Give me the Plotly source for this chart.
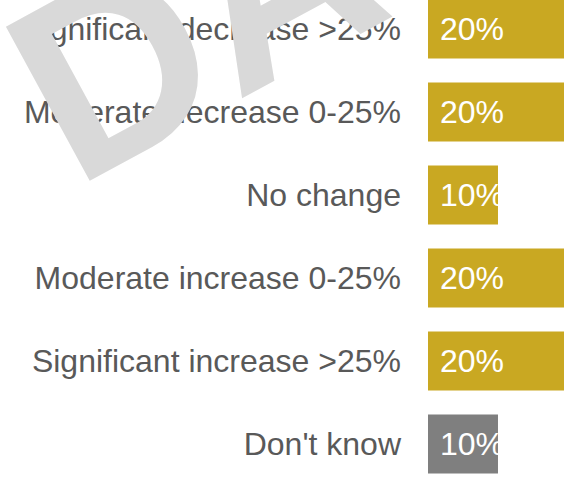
import plotly.graph_objects as go

# Survey responses: expected change
categories = [
    "Significant decrease >25%",
    "Moderate decrease 0-25%",
    "No change",
    "Moderate increase 0-25%",
    "Significant increase >25%",
    "Don't know",
]
shares = [20, 20, 10, 20, 20, 10]
bar_colors = ["#C9A822", "#C9A822", "#C9A822", "#C9A822", "#C9A822", "#7F7F7F"]

FONT = "Liberation Sans, Arial, sans-serif"

fig = go.Figure(
    go.Bar(
        x=shares,
        y=categories,
        orientation="h",
        width=0.71,
        marker=dict(color=bar_colors, line=dict(width=0)),
        texttemplate="\u00a0%{x}%",
        textposition="inside",
        insidetextanchor="start",
        constraintext="none",
        textfont=dict(family=FONT, size=32, color="white"),
        hoverinfo="skip",
    )
)

# Watermark across the upper left
fig.add_annotation(
    text="<b>DATA</b>",
    xref="paper", yref="paper",
    x=-0.744, y=1.100,
    xanchor="center", yanchor="middle",
    textangle=-28.5,
    showarrow=False,
    font=dict(family=FONT, size=255, color="#D9D9D9"),
)

fig.update_layout(
    width=564,
    height=483,
    margin=dict(l=428, r=0, t=0, b=0, pad=0),
    paper_bgcolor="white",
    plot_bgcolor="white",
    showlegend=False,
)
fig.update_xaxes(
    range=[0, 19.43],
    visible=False,
    showgrid=False,
    zeroline=False,
)
fig.update_yaxes(
    type="category",
    range=[5.470, -0.349],
    showgrid=False,
    zeroline=False,
    showline=False,
    ticks="",
    ticklabelstandoff=26,
    tickfont=dict(family=FONT, size=32, color="#595959"),
)

fig.write_html("out.html")
